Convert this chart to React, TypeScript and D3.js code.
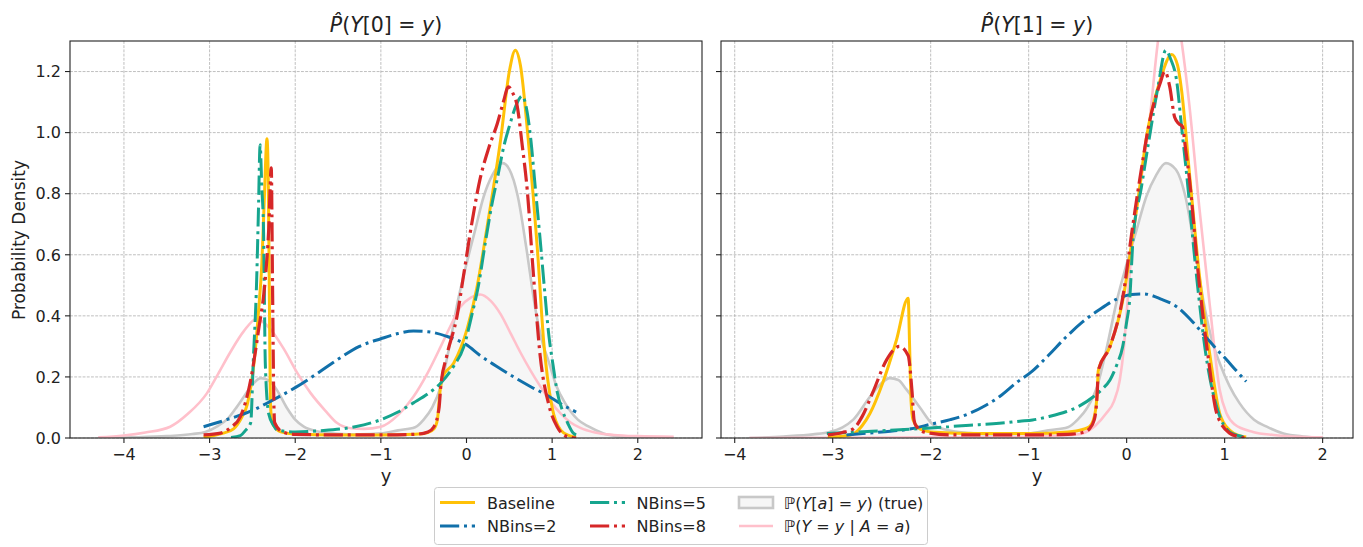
import React from "react";
import * as d3 from "d3";

type Pt = [number, number];

// ---------- tick labels ----------
const X_TICKS = [-4, -3, -2, -1, 0, 1, 2];
const X_TICK_LABELS = ["\u22124", "\u22123", "\u22122", "\u22121", "0", "1", "2"];
const Y_TICKS = [0, 0.2, 0.4, 0.6, 0.8, 1.0, 1.2];
const Y_TICK_LABELS = ["0.0", "0.2", "0.4", "0.6", "0.8", "1.0", "1.2"];

// ---------- left panel: P(Y[0]=y) ----------
const L_TRUE: Pt[] = [
  [-4.3, 0.0], [-3.9, 0.002], [-3.5, 0.006], [-3.2, 0.013], [-3.05, 0.02], [-2.9, 0.04], [-2.8, 0.06],
  [-2.7, 0.095], [-2.6, 0.135], [-2.5, 0.175], [-2.4, 0.196], [-2.32, 0.19], [-2.22, 0.16], [-2.1, 0.1],
  [-2.0, 0.06], [-1.9, 0.037], [-1.75, 0.022], [-1.5, 0.014], [-1.25, 0.012], [-1.0, 0.015], [-0.8, 0.025],
  [-0.6, 0.035], [-0.5, 0.06], [-0.4, 0.1], [-0.3, 0.17], [-0.2, 0.3], [-0.1, 0.45], [0.0, 0.57],
  [0.1, 0.68], [0.2, 0.79], [0.3, 0.86], [0.42, 0.9], [0.5, 0.88], [0.6, 0.79], [0.7, 0.62],
  [0.8, 0.43], [0.88, 0.32], [0.96, 0.25], [1.05, 0.17], [1.15, 0.115], [1.3, 0.06], [1.43, 0.037],
  [1.6, 0.015], [1.8, 0.005], [2.1, 0.001], [2.42, 0.0],
];
const L_BASE: Pt[] = [
  [-3.07, 0.003], [-2.95, 0.008], [-2.85, 0.015], [-2.72, 0.03], [-2.62, 0.07], [-2.56, 0.11],
  [-2.48, 0.25], [-2.43, 0.41], [-2.39, 0.57], [-2.36, 0.79], [-2.33, 0.98], [-2.315, 0.85],
  [-2.3, 0.4], [-2.29, 0.12], [-2.27, 0.05], [-2.17, 0.02], [-2.0, 0.013], [-1.5, 0.01], [-1.0, 0.01],
  [-0.6, 0.012], [-0.45, 0.018], [-0.38, 0.03], [-0.34, 0.06], [-0.31, 0.15], [-0.28, 0.2],
  [-0.15, 0.245], [0.01, 0.36], [0.12, 0.49], [0.24, 0.69], [0.4, 0.98], [0.5, 1.2], [0.57, 1.27],
  [0.63, 1.22], [0.72, 0.98], [0.83, 0.61], [0.9, 0.32], [1.0, 0.1], [1.1, 0.026], [1.2, 0.008],
  [1.28, 0.003],
];
const L_NB2: Pt[] = [
  [-3.07, 0.037], [-2.8, 0.06], [-2.5, 0.09], [-2.29, 0.12], [-2.0, 0.165], [-1.75, 0.21], [-1.51, 0.256],
  [-1.25, 0.3], [-1.0, 0.325], [-0.8, 0.342], [-0.62, 0.35], [-0.45, 0.348], [-0.23, 0.333], [0.0, 0.305],
  [0.16, 0.27], [0.35, 0.235], [0.55, 0.2], [0.75, 0.168], [0.94, 0.14], [1.1, 0.112], [1.28, 0.085],
];
const L_NB5: Pt[] = [
  [-2.75, 0.002], [-2.64, 0.008], [-2.58, 0.025], [-2.52, 0.05], [-2.49, 0.25], [-2.45, 0.52],
  [-2.43, 0.74], [-2.41, 0.96], [-2.39, 0.82], [-2.37, 0.68], [-2.36, 0.46], [-2.35, 0.25],
  [-2.31, 0.08], [-2.25, 0.04], [-2.21, 0.026], [-2.0, 0.02], [-1.7, 0.024], [-1.3, 0.037],
  [-1.0, 0.06], [-0.8, 0.085], [-0.62, 0.115], [-0.45, 0.145], [-0.3, 0.18], [-0.15, 0.235],
  [-0.03, 0.3], [0.06, 0.4], [0.14, 0.5], [0.22, 0.64], [0.3, 0.77], [0.36, 0.85], [0.44, 0.96],
  [0.51, 1.03], [0.58, 1.09], [0.65, 1.12], [0.7, 1.08], [0.75, 0.98], [0.8, 0.83], [0.86, 0.65],
  [0.91, 0.49], [0.96, 0.34], [1.01, 0.24], [1.06, 0.15], [1.12, 0.09], [1.18, 0.05], [1.25, 0.015],
  [1.28, 0.01],
];
const L_NB8: Pt[] = [
  [-3.07, 0.01], [-2.87, 0.016], [-2.75, 0.035], [-2.64, 0.07], [-2.52, 0.19], [-2.43, 0.35],
  [-2.35, 0.52], [-2.31, 0.68], [-2.28, 0.885], [-2.265, 0.5], [-2.25, 0.12], [-2.24, 0.05],
  [-2.15, 0.02], [-2.0, 0.012], [-1.5, 0.01], [-1.0, 0.01], [-0.6, 0.012], [-0.45, 0.02],
  [-0.38, 0.037], [-0.32, 0.1], [-0.3, 0.17], [-0.23, 0.27], [-0.11, 0.4], [-0.03, 0.54],
  [0.06, 0.7], [0.16, 0.85], [0.26, 0.95], [0.36, 1.03], [0.43, 1.1], [0.49, 1.15], [0.54, 1.13],
  [0.59, 1.09], [0.65, 0.96], [0.71, 0.81], [0.78, 0.54], [0.86, 0.27], [0.96, 0.11], [1.06, 0.036],
  [1.18, 0.004], [1.28, 0.0],
];
const L_COND: Pt[] = [
  [-4.3, 0.002], [-4.0, 0.008], [-3.75, 0.018], [-3.46, 0.037], [-3.25, 0.08], [-3.03, 0.147],
  [-2.9, 0.21], [-2.76, 0.28], [-2.6, 0.35], [-2.45, 0.39], [-2.3, 0.36], [-2.13, 0.29],
  [-1.98, 0.215], [-1.82, 0.147], [-1.65, 0.09], [-1.51, 0.049], [-1.35, 0.032], [-1.2, 0.03],
  [-1.0, 0.037], [-0.8, 0.075], [-0.62, 0.135], [-0.45, 0.215], [-0.3, 0.3], [-0.19, 0.365],
  [-0.07, 0.43], [0.05, 0.46], [0.16, 0.47], [0.28, 0.45], [0.4, 0.405], [0.52, 0.34], [0.63, 0.28],
  [0.75, 0.22], [0.86, 0.17], [0.98, 0.12], [1.1, 0.08], [1.22, 0.05], [1.33, 0.033], [1.5, 0.018],
  [1.72, 0.01], [2.0, 0.006], [2.42, 0.004],
];

// ---------- right panel: P(Y[1]=y) ----------
const R_TRUE: Pt[] = [
  [-3.85, 0.0], [-3.5, 0.005], [-3.2, 0.012], [-3.03, 0.02], [-2.9, 0.035], [-2.79, 0.06], [-2.62, 0.135],
  [-2.5, 0.18], [-2.42, 0.196], [-2.33, 0.19], [-2.25, 0.16], [-2.11, 0.1], [-1.98, 0.045],
  [-1.85, 0.028], [-1.6, 0.016], [-1.3, 0.012], [-1.0, 0.015], [-0.8, 0.025], [-0.6, 0.035],
  [-0.5, 0.06], [-0.4, 0.1], [-0.3, 0.17], [-0.2, 0.3], [-0.1, 0.45], [0.0, 0.57], [0.1, 0.68],
  [0.2, 0.79], [0.3, 0.86], [0.4, 0.9], [0.5, 0.88], [0.6, 0.79], [0.7, 0.61], [0.8, 0.42],
  [0.88, 0.31], [0.95, 0.245], [1.05, 0.17], [1.15, 0.115], [1.3, 0.06], [1.43, 0.037], [1.6, 0.015],
  [1.8, 0.005], [2.0, 0.001],
];
const R_BASE: Pt[] = [
  [-3.05, 0.003], [-2.9, 0.006], [-2.79, 0.013], [-2.7, 0.04], [-2.62, 0.08], [-2.49, 0.18],
  [-2.35, 0.32], [-2.23, 0.458], [-2.215, 0.3], [-2.2, 0.12], [-2.18, 0.06], [-2.11, 0.03],
  [-2.0, 0.02], [-1.5, 0.015], [-1.0, 0.015], [-0.6, 0.02], [-0.45, 0.028], [-0.38, 0.037],
  [-0.33, 0.07], [-0.3, 0.15], [-0.29, 0.22], [-0.17, 0.3], [-0.04, 0.45], [0.03, 0.59],
  [0.12, 0.79], [0.2, 0.98], [0.34, 1.17], [0.46, 1.256], [0.52, 1.22], [0.56, 1.14], [0.64, 0.87],
  [0.74, 0.54], [0.85, 0.27], [0.95, 0.08], [1.05, 0.026], [1.15, 0.008], [1.22, 0.003],
];
const R_NB2: Pt[] = [
  [-2.86, 0.01], [-2.5, 0.02], [-2.2, 0.03], [-2.0, 0.045], [-1.8, 0.06], [-1.6, 0.081], [-1.45, 0.105],
  [-1.3, 0.135], [-1.13, 0.18], [-0.96, 0.22], [-0.8, 0.27], [-0.62, 0.33], [-0.45, 0.38],
  [-0.28, 0.42], [-0.1, 0.455], [0.05, 0.47], [0.17, 0.472], [0.35, 0.455], [0.51, 0.43],
  [0.66, 0.385], [0.81, 0.33], [0.92, 0.29], [1.02, 0.256], [1.12, 0.22], [1.22, 0.185],
];
const R_NB5: Pt[] = [
  [-3.06, 0.015], [-2.6, 0.022], [-2.04, 0.032], [-1.6, 0.042], [-1.3, 0.048], [-1.09, 0.055],
  [-0.96, 0.059], [-0.8, 0.07], [-0.62, 0.086], [-0.48, 0.105], [-0.34, 0.135], [-0.25, 0.16],
  [-0.17, 0.19], [-0.1, 0.24], [-0.04, 0.3], [0.0, 0.38], [0.03, 0.45], [0.065, 0.65], [0.15, 0.82],
  [0.23, 0.98], [0.32, 1.15], [0.4, 1.27], [0.45, 1.24], [0.51, 1.17], [0.56, 1.02], [0.61, 0.87],
  [0.71, 0.54], [0.81, 0.27], [0.93, 0.09], [1.05, 0.02], [1.19, 0.004], [1.22, 0.002],
];
const R_NB8: Pt[] = [
  [-3.05, 0.01], [-2.9, 0.018], [-2.79, 0.03], [-2.7, 0.07], [-2.59, 0.15], [-2.45, 0.256],
  [-2.32, 0.3], [-2.23, 0.27], [-2.19, 0.15], [-2.17, 0.06], [-2.15, 0.04], [-2.05, 0.018],
  [-1.8, 0.01], [-1.0, 0.01], [-0.6, 0.012], [-0.45, 0.018], [-0.38, 0.03], [-0.33, 0.06],
  [-0.3, 0.15], [-0.29, 0.22], [-0.17, 0.3], [-0.04, 0.46], [0.06, 0.69], [0.15, 0.88], [0.23, 1.03],
  [0.34, 1.16], [0.39, 1.2], [0.44, 1.15], [0.49, 1.05], [0.53, 1.03], [0.57, 1.02], [0.6, 0.95],
  [0.64, 0.85], [0.73, 0.54], [0.83, 0.27], [0.92, 0.08], [1.05, 0.016], [1.15, 0.004], [1.22, 0.0],
];
const R_COND: Pt[] = [
  [-3.85, 0.0], [-3.0, 0.001], [-2.0, 0.002], [-1.2, 0.003], [-0.8, 0.006], [-0.55, 0.01],
  [-0.45, 0.015], [-0.32, 0.04], [-0.21, 0.08], [-0.13, 0.12], [-0.07, 0.19], [-0.03, 0.29],
  [0.0, 0.41], [0.06, 0.65], [0.15, 0.85], [0.23, 1.03], [0.32, 1.3], [0.38, 1.42], [0.44, 1.46],
  [0.5, 1.42], [0.56, 1.3], [0.64, 1.09], [0.74, 0.76], [0.85, 0.43], [0.95, 0.157], [1.02, 0.08],
  [1.1, 0.045], [1.29, 0.02], [1.5, 0.01], [1.77, 0.004], [2.0, 0.002],
];

// ---------- styles ----------
const C_BASE = "#ffc107";
const C_NB2 = "#1170aa";
const C_NB5 = "#16a58e";
const C_NB8 = "#d62728";
const C_TRUE = "#c8c8c8";
const C_FILL = "#f6f6f6";
const C_COND = "#ffc0cb";
const DASHDOT = "19.2,4.8,3,4.8";
const FONT = "'DejaVu Sans', sans-serif";

const TOP = 41;
const BOTTOM = 438;
const Y_DOMAIN: [number, number] = [0, 1.3];

type Panel = {
  id: string;
  left: number;
  right: number;
  xDomain: [number, number];
  idx: string;
  truth: Pt[];
  base: Pt[];
  nb2: Pt[];
  nb5: Pt[];
  nb8: Pt[];
  cond: Pt[];
  showYLabels: boolean;
};

const PANELS: Panel[] = [
  { id: "L", left: 70, right: 702, xDomain: [-4.63, 2.75], idx: "0", truth: L_TRUE, base: L_BASE, nb2: L_NB2, nb5: L_NB5, nb8: L_NB8, cond: L_COND, showYLabels: true },
  { id: "R", left: 721, right: 1353, xDomain: [-4.14, 2.31], idx: "1", truth: R_TRUE, base: R_BASE, nb2: R_NB2, nb5: R_NB5, nb8: R_NB8, cond: R_COND, showYLabels: false },
];

function PanelView({ p }: { p: Panel }) {
  const x = d3.scaleLinear().domain(p.xDomain).range([p.left, p.right]);
  const y = d3.scaleLinear().domain(Y_DOMAIN).range([BOTTOM, TOP]);
  const line = d3.line<Pt>().x((d) => x(d[0])).y((d) => y(d[1])).curve(d3.curveMonotoneX);
  const area = d3.area<Pt>().x((d) => x(d[0])).y0(y(0)).y1((d) => y(d[1])).curve(d3.curveMonotoneX);
  const clipId = `clip-${p.id}`;
  const cx = (p.left + p.right) / 2;
  return (
    <g>
      <defs>
        <clipPath id={clipId}>
          <rect x={p.left} y={TOP} width={p.right - p.left} height={BOTTOM - TOP} />
        </clipPath>
      </defs>
      {/* grid */}
      <g stroke="#b0b0b0" strokeWidth={0.8} strokeDasharray="2.9,1.3">
        {X_TICKS.map((t) => (
          <line key={"gx" + t} x1={x(t)} x2={x(t)} y1={TOP} y2={BOTTOM} />
        ))}
        {Y_TICKS.map((t) => (
          <line key={"gy" + t} x1={p.left} x2={p.right} y1={y(t)} y2={y(t)} />
        ))}
      </g>
      <g clipPath={`url(#${clipId})`} fill="none" strokeLinejoin="round">
        <path d={area(p.truth) || ""} fill={C_FILL} stroke="none" />
        <path d={line(p.truth) || ""} stroke={C_TRUE} strokeWidth={2.6} />
        <path d={line(p.cond) || ""} stroke={C_COND} strokeWidth={2.6} />
        <path d={line(p.base) || ""} stroke={C_BASE} strokeWidth={3} />
        <path d={line(p.nb2) || ""} stroke={C_NB2} strokeWidth={3} strokeDasharray={DASHDOT} />
        <path d={line(p.nb5) || ""} stroke={C_NB5} strokeWidth={3} strokeDasharray={DASHDOT} />
        <path d={line(p.nb8) || ""} stroke={C_NB8} strokeWidth={3.2} strokeDasharray={DASHDOT} />
      </g>
      {/* spines */}
      <rect x={p.left} y={TOP} width={p.right - p.left} height={BOTTOM - TOP} fill="none" stroke="#222" strokeWidth={1.1} />
      {/* x ticks */}
      {X_TICKS.map((t, i) => (
        <g key={"xt" + t}>
          <line x1={x(t)} x2={x(t)} y1={BOTTOM} y2={BOTTOM + 5} stroke="#222" strokeWidth={1.1} />
          <text x={x(t)} y={BOTTOM + 22} textAnchor="middle" fontSize={16} fontFamily={FONT} fill="#222">
            {X_TICK_LABELS[i]}
          </text>
        </g>
      ))}
      {/* y ticks */}
      {Y_TICKS.map((t, i) => (
        <g key={"yt" + t}>
          <line x1={p.left - 5} x2={p.left} y1={y(t)} y2={y(t)} stroke="#222" strokeWidth={1.1} />
          {p.showYLabels && (
            <text x={p.left - 9} y={y(t) + 5.8} textAnchor="end" fontSize={16} fontFamily={FONT} fill="#222">
              {Y_TICK_LABELS[i]}
            </text>
          )}
        </g>
      ))}
      {/* x label */}
      <text x={cx} y={482} textAnchor="middle" fontSize={18} fontFamily={FONT} fill="#222">y</text>
      {/* title */}
      <text x={cx} y={32} textAnchor="middle" fontSize={20.5} fontFamily={FONT} fill="#222">
        <tspan fontStyle="italic">{"P\u0302"}</tspan>
        <tspan>(</tspan>
        <tspan fontStyle="italic">Y</tspan>
        <tspan>{`[${p.idx}] = `}</tspan>
        <tspan fontStyle="italic">y</tspan>
        <tspan>)</tspan>
      </text>
    </g>
  );
}

function Legend() {
  const rows = [508.5, 532];
  const midRow = [502.5, 526];
  return (
    <g fontFamily={FONT} fontSize={16} fill="#222">
      <rect x={434.5} y={487.5} width={493} height={57} rx={3} fill="#ffffff" fillOpacity={0.8} stroke="#cccccc" strokeWidth={1} />
      {/* col 1 */}
      <line x1={440} x2={475} y1={midRow[0]} y2={midRow[0]} stroke={C_BASE} strokeWidth={3} />
      <text x={487} y={rows[0]}>Baseline</text>
      <line x1={440} x2={475} y1={midRow[1]} y2={midRow[1]} stroke={C_NB2} strokeWidth={3} strokeDasharray={DASHDOT} />
      <text x={487} y={rows[1]}>NBins=2</text>
      {/* col 2 */}
      <line x1={590} x2={625} y1={midRow[0]} y2={midRow[0]} stroke={C_NB5} strokeWidth={3} strokeDasharray={DASHDOT} />
      <text x={636.5} y={rows[0]}>NBins=5</text>
      <line x1={590} x2={625} y1={midRow[1]} y2={midRow[1]} stroke={C_NB8} strokeWidth={3.2} strokeDasharray={DASHDOT} />
      <text x={636.5} y={rows[1]}>NBins=8</text>
      {/* col 3 */}
      <rect x={739} y={497} width={34} height={11} fill={C_FILL} stroke={C_TRUE} strokeWidth={2.6} />
      <text x={784} y={rows[0]}>
        <tspan>{"\u2119("}</tspan>
        <tspan fontStyle="italic">Y</tspan>
        <tspan>[</tspan>
        <tspan fontStyle="italic">a</tspan>
        <tspan>{"] = "}</tspan>
        <tspan fontStyle="italic">y</tspan>
        <tspan>{") (true)"}</tspan>
      </text>
      <line x1={739} x2={773} y1={midRow[1]} y2={midRow[1]} stroke={C_COND} strokeWidth={2.6} />
      <text x={784} y={rows[1]}>
        <tspan>{"\u2119("}</tspan>
        <tspan fontStyle="italic">Y</tspan>
        <tspan>{" = "}</tspan>
        <tspan fontStyle="italic">y</tspan>
        <tspan>{" | "}</tspan>
        <tspan fontStyle="italic">A</tspan>
        <tspan>{" = "}</tspan>
        <tspan fontStyle="italic">a</tspan>
        <tspan>)</tspan>
      </text>
    </g>
  );
}

export default function App() {
  return (
    <svg width={1363} height={547} style={{ position: "absolute", left: 0, top: 0, background: "#fff" }}>
      <rect x={0} y={0} width={1363} height={547} fill="#fff" />
      {PANELS.map((p) => (
        <PanelView key={p.id} p={p} />
      ))}
      <text transform="translate(24.5,240) rotate(-90)" textAnchor="middle" fontSize={17} fontFamily={FONT} fill="#222">
        Probability Density
      </text>
      <Legend />
    </svg>
  );
}
